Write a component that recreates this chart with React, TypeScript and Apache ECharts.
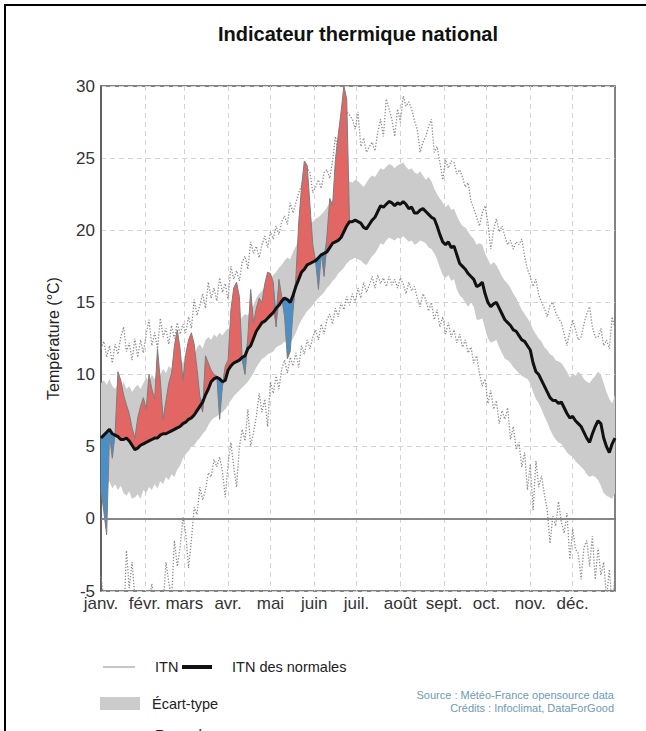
import React, { useEffect, useRef } from 'react';
import * as echarts from 'echarts';

const FONT = "'Liberation Sans', Arial, Helvetica, sans-serif";

const MONTHS = ['janv.', 'févr.', 'mars', 'avr.', 'mai', 'juin', 'juil.', 'août', 'sept.', 'oct.', 'nov.', 'déc.'];
const MONTH_START = [0, 31, 59, 90, 120, 151, 181, 212, 243, 273, 304, 334];
const DAY_COUNT = 365;
const STEP = 2; // one sample every 2 days, starting on 1 January
const Y_MIN = -5;
const Y_MAX = 30;
const Y_INTERVAL = 5;

// ITN des normales (°C)
const NORMALE = [
  5.6, 5.8, 6.0, 6.2, 5.9, 5.8, 5.7, 5.5, 5.5, 5.6,
  5.4, 5.1, 4.8, 4.9, 5.1, 5.2, 5.3, 5.4, 5.5, 5.6,
  5.6, 5.8, 5.9, 5.9, 6.0, 6.1, 6.2, 6.3, 6.4, 6.6,
  6.7, 6.9, 7.0, 7.2, 7.5, 7.8, 8.1, 8.6, 9.0, 9.5,
  9.7, 9.8, 9.7, 9.5, 9.6, 10.3, 10.6, 10.8, 10.9, 11.0,
  11.2, 11.3, 11.8, 12.0, 12.5, 13.0, 13.3, 13.6, 13.7, 13.9,
  14.1, 14.3, 14.6, 14.8, 15.1, 15.3, 15.2, 15.0, 15.5, 16.1,
  16.6, 17.1, 17.3, 17.6, 17.7, 17.8, 17.9, 18.1, 18.3, 18.4,
  18.5, 18.8, 19.1, 19.2, 19.3, 19.5, 19.9, 20.3, 20.6, 20.6,
  20.7, 20.6, 20.5, 20.2, 20.1, 20.4, 20.7, 20.9, 21.3, 21.7,
  21.6, 21.8, 22.0, 21.9, 21.7, 21.9, 21.8, 22.0, 21.8, 21.5,
  21.6, 21.2, 21.2, 21.4, 21.5, 21.3, 21.1, 20.9, 20.8, 20.3,
  19.7, 19.2, 19.0, 19.2, 18.8, 18.9, 18.3, 17.7, 17.5, 17.3,
  17.0, 16.8, 16.6, 16.1, 16.2, 16.4, 15.6, 15.0, 14.7, 14.9,
  15.0, 14.6, 14.2, 13.8, 13.6, 13.4, 13.1, 13.0, 12.7, 12.4,
  12.3, 12.0, 11.7, 10.8, 10.2, 10.0, 9.6, 9.2, 8.8, 8.4,
  8.2, 8.2, 8.0, 8.1, 7.7, 7.3, 7.0, 7.1, 6.8, 6.6,
  6.4, 6.0, 5.6, 5.3, 5.9, 6.4, 6.8, 6.6, 5.6, 5.0,
  4.6, 5.2, 5.6,
];

// Écart-type : borne haute (°C)
const ECART_HAUT = [
  9.4, 9.6, 9.3, 9.7, 9.2, 9.0, 9.4, 9.1, 9.5, 9.0,
  9.2, 8.8, 9.1, 9.3, 9.0, 9.4, 9.8, 9.5, 10.0, 9.7,
  10.2, 10.0, 10.4, 10.1, 10.6, 10.4, 10.9, 10.6, 11.0, 10.8,
  11.2, 11.0, 11.5, 11.3, 11.9, 12.1, 11.8, 12.4, 12.6, 12.4,
  12.8, 12.6, 12.9, 12.7, 13.0, 13.2, 13.1, 13.5, 13.7, 13.6,
  14.0, 14.2, 14.1, 14.5, 14.8, 15.3, 15.6, 15.8, 16.1, 16.4,
  16.6, 16.9, 17.1, 17.4, 17.6, 17.9, 18.1, 18.0, 18.5, 18.9,
  19.3, 19.7, 20.0, 20.3, 20.5, 20.6, 20.8, 20.9, 21.1, 21.3,
  21.6, 21.9, 22.1, 22.3, 22.4, 22.6, 22.9, 23.2, 23.4, 23.3,
  23.5, 23.4, 23.2, 23.0, 23.3, 23.6, 23.8, 23.7, 24.0, 24.3,
  24.2, 24.4, 24.6, 24.5, 24.3, 24.5, 24.6, 24.7, 24.4, 24.2,
  24.3, 24.0, 23.9, 24.1, 23.8, 23.5, 23.7, 23.4, 22.9, 22.5,
  22.2, 21.9, 21.6, 21.8, 21.4, 21.5, 21.0, 20.6, 20.3, 20.2,
  19.9, 19.6, 19.4, 19.0, 19.1, 19.0, 18.4, 18.0, 17.6, 17.8,
  17.6, 17.2, 16.8, 16.5, 16.3, 16.0, 15.6, 15.3, 14.9, 14.5,
  14.2, 13.9, 13.6, 13.1, 12.8, 12.5, 12.3, 11.9, 11.7, 11.4,
  11.3, 11.0, 10.9, 10.8, 10.5, 10.2, 9.8, 10.1, 9.9, 10.2,
  10.0, 9.7, 9.5, 9.4, 9.7, 9.9, 10.2, 10.0, 9.4, 8.8,
  8.3, 8.0, 8.6,
];

// Écart-type : borne basse (°C)
const ECART_BAS = [
  3.0, 2.6, 2.3, 2.6, 2.1, 2.4, 2.0, 2.3, 1.8, 1.6,
  1.9, 1.4, 1.5, 1.7, 1.4, 2.0, 1.8, 2.2, 2.0, 2.4,
  2.1, 2.6, 2.4, 2.9, 2.7, 3.1, 2.9, 3.4, 3.7, 4.2,
  4.5, 4.7, 5.0, 5.1, 5.4, 5.6, 5.9, 6.1, 6.5, 6.8,
  7.0, 7.1, 7.3, 7.4, 7.6, 7.9, 8.2, 8.5, 8.7, 8.9,
  9.1, 9.3, 9.5, 9.8, 10.1, 10.5, 10.8, 11.1, 11.2, 11.4,
  11.5, 11.6, 11.9, 12.0, 12.1, 12.3, 12.2, 12.2, 12.5, 12.9,
  13.4, 13.8, 14.1, 14.4, 14.6, 14.8, 15.1, 15.3, 15.5, 15.7,
  16.0, 16.2, 16.5, 16.7, 17.0, 17.2, 17.4, 17.7, 17.9, 18.0,
  18.1, 18.0, 17.9, 17.7, 17.6, 17.9, 18.2, 18.4, 18.7, 19.1,
  19.0, 19.3, 19.5, 19.4, 19.3, 19.5, 19.4, 19.6, 19.4, 19.2,
  19.3, 19.0, 19.1, 19.3, 19.2, 19.1, 18.8, 18.7, 18.4, 18.0,
  17.4, 16.9, 16.7, 16.9, 16.5, 16.6, 15.9, 15.5, 15.3, 15.0,
  14.7, 15.0, 14.7, 13.8, 13.8, 13.9, 13.2, 12.5, 12.2, 12.3,
  12.4, 11.9, 11.5, 11.1, 11.0, 10.8, 10.5, 10.3, 10.1, 9.9,
  9.8, 9.7, 9.4, 8.8, 8.3, 8.0, 7.6, 7.1, 6.7, 6.2,
  5.8, 5.5, 5.3, 5.2, 4.9, 4.6, 4.4, 4.3, 4.0, 3.8,
  3.6, 3.4, 3.1, 2.9, 3.0, 2.9, 2.7, 2.3, 1.8, 1.6,
  1.5, 1.4, 1.8,
];

// Records (pointillés)
const RECORD_MAX = [
  11.8, 12.3, 11.2, 12.0, 10.8, 12.1, 11.4, 12.6, 13.3, 11.6,
  12.2, 11.0, 12.5, 11.2, 12.4, 11.5, 12.8, 13.8, 12.0, 12.9,
  11.8, 13.9, 12.6, 13.2, 12.1, 13.4, 12.5, 13.6, 12.8, 13.5,
  12.9, 14.0, 13.2, 15.2, 14.1, 14.8, 15.6, 14.6, 16.4, 15.3,
  16.0, 15.1, 16.7, 15.7, 16.3, 15.2, 17.5, 16.6, 17.2, 16.5,
  17.8, 18.2, 17.3, 19.2, 18.4, 18.9, 18.1, 19.0, 19.6, 18.8,
  19.9, 19.4, 20.3, 19.7, 20.6, 21.0, 20.4, 21.9, 21.2, 21.9,
  22.6, 23.1, 23.8, 24.3, 24.0, 22.6, 23.0, 23.5, 22.9, 24.0,
  24.2, 23.6, 24.8, 26.5, 25.3, 25.6, 27.0, 28.2, 28.0, 27.7,
  27.0, 28.2, 25.8, 26.4, 25.4, 25.8, 26.1, 25.5, 26.8, 27.7,
  26.5, 29.1, 28.4, 27.7, 26.5, 28.4, 27.5, 29.3, 28.6, 28.9,
  28.4, 27.6, 27.0, 25.4, 26.1, 26.5, 27.2, 27.7, 25.4, 25.8,
  24.7, 23.5, 24.9, 24.3, 24.8, 24.7, 23.9, 24.2, 23.7, 23.0,
  23.3, 22.0, 21.5, 20.9, 20.3, 21.2, 21.7, 20.5, 18.7, 20.0,
  20.8, 19.9, 20.3, 19.6, 19.0, 19.3, 18.7, 19.2, 19.0, 19.4,
  18.2, 17.3, 16.8, 16.1, 16.6, 15.5, 15.0, 14.6, 14.0, 14.8,
  15.0, 14.3, 13.9, 13.6, 12.8, 12.0, 13.0, 13.8, 13.1, 12.4,
  12.6, 13.5, 14.2, 14.7, 13.3, 12.6, 12.6, 13.2, 12.0, 12.4,
  11.8, 14.0, 13.2,
];

const RECORD_MIN = [
  -4.0, -5.5, -6.5, -7.0, -7.5, -8.0, -7.0, -6.5, -7.5, -2.2,
  -4.8, -3.0, -5.5, -7.0, -6.5, -6.0, -6.5, -5.8, -4.5, -6.0,
  -7.0, -5.5, -6.0, -3.0, -4.4, -5.5, -1.5, -3.3, -2.0, 0.1,
  -1.0, -3.4, -1.5, 0.8, 0.3, 2.2, 1.3, 2.0, 3.2, 2.9,
  4.1, 3.6, 4.3, 3.3, 1.5, 3.8, 5.3, 3.6, 2.2, 5.0,
  6.2, 5.4, 7.6, 5.0, 6.0, 7.1, 8.7, 7.4, 8.3, 6.4,
  9.5, 8.7, 9.9, 9.0, 10.4, 11.0, 10.1, 11.2, 10.6, 11.5,
  10.5, 12.0, 11.4, 12.4, 11.8, 12.6, 13.1, 12.4, 13.5, 12.8,
  13.8, 14.2, 13.5, 14.6, 14.0, 15.0, 14.5, 15.4, 14.8, 15.6,
  15.0, 16.0, 15.3, 16.4, 15.7, 16.2, 16.8, 16.0, 16.9, 16.3,
  16.7, 16.1, 16.8, 16.2, 16.6, 16.0, 16.7, 16.3, 15.6, 16.4,
  15.8, 16.1, 15.3, 14.7, 15.6, 15.2, 14.4, 15.0, 13.8, 14.5,
  13.3, 14.0, 12.8, 13.6, 12.6, 13.1, 12.2, 12.8, 11.9, 12.4,
  11.5, 11.9, 10.8, 11.3, 10.1, 9.2, 9.7, 8.0, 8.9, 7.6,
  8.2, 6.6, 7.5, 6.9, 7.7, 5.5, 6.4, 4.8, 5.3, 3.6,
  4.6, 2.0, 3.8, 0.6, 4.0, 2.2, 3.0, 1.7, 0.6, -1.7,
  0.2, -0.5, 1.2, -0.2, -1.0, 0.4, -2.8, -0.7, -2.1, -2.4,
  -4.2, -2.0, -1.5, -3.3, -1.2, -4.2, -2.0, -3.9, -3.0, -5.5,
  -3.5, -6.0, -4.0,
];

// ITN de l'année en cours (jusqu'à fin juin)
const ITN = [
  2.0, 0.5, -1.1, 5.8, 4.2, 5.9, 10.2, 9.6, 8.6, 7.9,
  7.3, 6.3, 5.6, 7.0, 7.8, 8.4, 7.6, 10.0, 9.0, 8.3,
  11.8, 9.6, 6.9, 8.2, 9.4, 10.1, 12.0, 13.1, 11.8, 9.6,
  11.4, 12.4, 12.9, 12.1, 10.4, 8.5, 7.4, 11.3, 10.8, 10.3,
  10.0, 9.9, 6.9, 9.2, 10.6, 11.0, 14.5, 16.0, 16.4, 15.4,
  11.0, 10.0, 12.6, 15.9, 13.6, 14.6, 15.3, 15.0, 16.3, 17.1,
  17.0, 16.4, 13.3, 16.6, 15.4, 14.0, 11.1, 11.6, 14.4, 16.7,
  20.5, 23.0, 24.8, 24.5, 21.7, 19.0, 17.8, 15.9, 18.4, 16.8,
  19.6, 22.2, 21.7, 24.9, 26.6, 28.2, 30.0, 29.1, 20.6,
];

const LEGEND_LABELS = ['ITN', 'ITN des normales', 'Écart-type', 'Records'];
const SOURCE_LINES = ['Source : Météo-France opensource data', 'Crédits : Infoclimat, DataForGood'];
const TITLE = 'Indicateur thermique national';
const Y_NAME = 'Température (°C)';

const pairs = (arr: number[]) => arr.map((v, i) => [i * STEP, v]);

export default function App() {
  const ref = useRef<HTMLDivElement>(null);

  useEffect(() => {
    if (!ref.current) return;
    const chart = echarts.init(ref.current, undefined, { renderer: 'svg' });

    const labelAt = new Map<number, string>(MONTH_START.map((d, i) => [d, MONTHS[i]]));
    const categories = Array.from({ length: DAY_COUNT }, (_, i) => String(i));

    const bandBase = pairs(ECART_BAS);
    const bandWidth = ECART_HAUT.map((v, i) => [i * STEP, +(v - ECART_BAS[i]).toFixed(2)]);

    const itnBase = ITN.map((v, i) => [i * STEP, Math.min(v, NORMALE[i])]);
    const itnRed = ITN.map((v, i) => [i * STEP, +Math.max(v - NORMALE[i], 0).toFixed(2)]);
    const itnBlue = ITN.map((v, i) => [i * STEP, +Math.max(NORMALE[i] - v, 0).toFixed(2)]);

    const hidden = { opacity: 0, width: 0 };
    const common = { type: 'line', symbol: 'none', showSymbol: false, silent: true, animation: false };

    const option: any = {
      animation: false,
      backgroundColor: '#ffffff',
      textStyle: { fontFamily: FONT },
      title: {
        text: TITLE,
        left: 358,
        top: 24,
        padding: 0,
        textAlign: 'center',
        textStyle: { fontFamily: FONT, fontSize: 20, fontWeight: 'bold', color: '#111' },
      },
      grid: {
        left: 101,
        right: 31,
        top: 86,
        bottom: 140,
        show: true,
        borderColor: '#5a5a5a',
        borderWidth: 1.5,
        backgroundColor: 'transparent',
      },
      xAxis: {
        type: 'category',
        data: categories,
        boundaryGap: false,
        axisLine: { show: true, lineStyle: { color: '#555', width: 1.5 } },
        axisTick: { show: false },
        axisLabel: {
          interval: (i: number) => labelAt.has(i),
          formatter: (_v: string, i: number) => labelAt.get(i) ?? '',
          color: '#333',
          fontSize: 17,
          fontFamily: FONT,
          margin: 4,
        },
        splitLine: {
          show: true,
          interval: (i: number) => labelAt.has(i) && i !== 0,
          lineStyle: { color: '#d4d4d4', width: 1, type: [5, 4] },
        },
      },
      yAxis: {
        type: 'value',
        min: Y_MIN,
        max: Y_MAX,
        interval: Y_INTERVAL,
        name: Y_NAME,
        nameLocation: 'middle',
        nameGap: 40,
        nameTextStyle: { fontSize: 16, color: '#222', fontFamily: FONT },
        axisLine: { show: true, lineStyle: { color: '#555', width: 1.5 } },
        axisTick: { show: false },
        axisLabel: { color: '#333', fontSize: 17, fontFamily: FONT, margin: 6 },
        splitLine: { show: true, lineStyle: { color: '#d4d4d4', width: 1, type: [5, 4] } },
      },
      series: [
        {
          ...common,
          name: 'bandBase',
          stack: 'band',
          stackStrategy: 'all',
          data: bandBase,
          lineStyle: hidden,
          markLine: {
            silent: true,
            symbol: 'none',
            label: { show: false },
            lineStyle: { color: '#8a8a8a', type: 'solid', width: 1.5 },
            data: [{ yAxis: 0 }],
          },
        },
        {
          ...common,
          name: 'Écart-type',
          stack: 'band',
          stackStrategy: 'all',
          data: bandWidth,
          lineStyle: hidden,
          areaStyle: { color: '#cbcbcb', opacity: 1 },
        },
        {
          ...common,
          name: 'itnBase',
          stack: 'ecart',
          stackStrategy: 'all',
          data: itnBase,
          lineStyle: hidden,
        },
        {
          ...common,
          name: 'chaud',
          stack: 'ecart',
          stackStrategy: 'all',
          data: itnRed,
          lineStyle: hidden,
          areaStyle: { color: '#e16664', opacity: 1 },
        },
        {
          ...common,
          name: 'froid',
          stack: 'ecart',
          stackStrategy: 'all',
          data: itnBlue,
          lineStyle: hidden,
          areaStyle: { color: '#4a8fc8', opacity: 1 },
        },
        {
          ...common,
          name: 'Record max',
          data: pairs(RECORD_MAX),
          lineStyle: { color: '#8d8d8d', width: 1.3, type: [1.3, 1.7] },
        },
        {
          ...common,
          name: 'Record min',
          data: pairs(RECORD_MIN),
          lineStyle: { color: '#8d8d8d', width: 1.3, type: [1.3, 1.7] },
        },
        {
          ...common,
          name: 'ITN',
          data: pairs(ITN),
          lineStyle: { color: '#7d7d7d', width: 1 },
        },
        {
          ...common,
          name: 'ITN des normales',
          data: pairs(NORMALE),
          lineStyle: { color: '#111', width: 3 },
          z: 5,
        },
      ],
      graphic: {
        elements: [
          {
            type: 'rect',
            silent: true,
            shape: { x: 5, y: 5, width: 720, height: 820 },
            style: { fill: 'none', stroke: '#000', lineWidth: 2 },
          },
          {
            type: 'line',
            shape: { x1: 103, y1: 667, x2: 135, y2: 667 },
            style: { stroke: '#b3b3b3', lineWidth: 1.5 },
          },
          {
            type: 'text',
            x: 155,
            y: 667,
            style: { text: LEGEND_LABELS[0], fontSize: 14.5, fill: '#222', fontFamily: FONT, verticalAlign: 'middle' },
          },
          {
            type: 'line',
            shape: { x1: 182, y1: 667, x2: 212, y2: 667 },
            style: { stroke: '#111', lineWidth: 4 },
          },
          {
            type: 'text',
            x: 232,
            y: 667,
            style: { text: LEGEND_LABELS[1], fontSize: 14.5, fill: '#222', fontFamily: FONT, verticalAlign: 'middle' },
          },
          {
            type: 'rect',
            shape: { x: 100, y: 697, width: 40, height: 13 },
            style: { fill: '#cccccc' },
          },
          {
            type: 'text',
            x: 152,
            y: 704,
            style: { text: LEGEND_LABELS[2], fontSize: 14.5, fill: '#222', fontFamily: FONT, verticalAlign: 'middle' },
          },
          {
            type: 'line',
            shape: { x1: 103, y1: 741, x2: 135, y2: 741 },
            style: { stroke: '#8d8d8d', lineWidth: 1.3, lineDash: [1.3, 1.7] },
          },
          {
            type: 'text',
            x: 155,
            y: 727,
            style: { text: LEGEND_LABELS[3], fontSize: 14.5, fill: '#222', fontFamily: FONT, verticalAlign: 'top' },
          },
          {
            type: 'text',
            x: 614,
            y: 695,
            style: { text: SOURCE_LINES[0], fontSize: 11, fill: '#6e9bb4', fontFamily: FONT, align: 'right', verticalAlign: 'middle' },
          },
          {
            type: 'text',
            x: 614,
            y: 708,
            style: { text: SOURCE_LINES[1], fontSize: 11, fill: '#6e9bb4', fontFamily: FONT, align: 'right', verticalAlign: 'middle' },
          },
        ],
      },
    };

    chart.setOption(option);
    return () => chart.dispose();
  }, []);

  return (
    <div
      ref={ref}
      style={{ position: 'absolute', left: 0, top: 0, width: 646, height: 731, background: '#fff' }}
    />
  );
}
